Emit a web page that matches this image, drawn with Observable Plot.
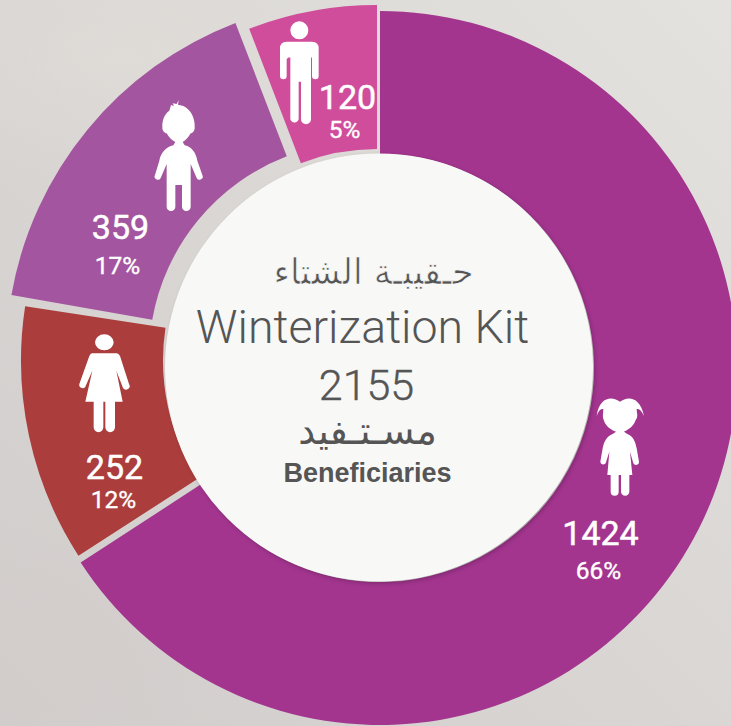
<!DOCTYPE html>
<html>
<head>
<meta charset="utf-8">
<script src="https://cdn.jsdelivr.net/npm/d3@7"></script>
<script src="https://cdn.jsdelivr.net/npm/@observablehq/plot@0.6"></script>
<style>
html,body{margin:0;padding:0;width:731px;height:726px;overflow:hidden;
 background:
  radial-gradient(ellipse 260px 120px at 120px 60px,rgba(232,226,218,.35),transparent),
  radial-gradient(ellipse 200px 160px at 60px 640px,rgba(214,204,200,.35),transparent),
  linear-gradient(45deg,#d0cdcc 0%,#d8d5d3 45%,#e4e2de 100%);}
svg{display:block;background:transparent!important}
</style>
</head>
<body>
<div id="chart"></div>
<script>
// data
const groups = ["Girls", "Women", "Boys", "Men"];
const beneficiaries = [1424, 252, 359, 120];
const counts = ["1424", "252", "359", "120"];
const shares = ["66%", "12%", "17%", "5%"];
const colors = ["#a3358f", "#ab3e3c", "#a3569f", "#d04d9b"];

// layout of each exploded slice
const centers = [[380, 368], [381, 360.6], [364, 357], [377, 361]];
const outerRadii = [357, 360, 358, 356];
const innerRadii = [214, 218, 215, 212];
const startNudgeDeg = [0, -0.7, 0, -1];
const endNudgeDeg = [-0.9, -1.3, -1, 0];
const countPos = [[600, 534], [114, 468], [120, 228], [347, 98]];
const sharePos = [[598, 571], [113, 500], [117, 266], [344, 130]];

// pictograms, traced in their own 3x grid
const iconOrigins = [[540, 380], [0, 280], [70, 90], [230, 0]];
const iconPaths = [
  "M240 65C262 48 300 48 312 108C304 90 296 84 290 88C290 100 296 110 286 122C280 140 262 150 252 155L262 162C280 168 286 185 290 205L297 245A9 9 0 0 1 280 250L270 215L277 285H268V335A12 12 0 0 1 243 335V285H236V335A12 12 0 0 1 212 335V285H202L208 215L197 250A9 9 0 0 1 181 245L188 205C192 185 200 168 218 162L228 155C215 150 198 140 192 122C186 110 190 100 190 88C184 84 176 90 170 108C178 48 218 48 240 65Z",
  "M276 220H350Q356 220 360 228L387 312A10 10 0 0 1 369 324L349 272L368 365H345V442A14 14 0 0 1 316 442V365H310V442A14 14 0 0 1 281 442V365H256L277 272L256 320A10 10 0 0 1 238 312L268 228Q272 220 276 220ZM285 187A28 24 0 1 0 341 187A28 24 0 1 0 285 187Z",
  "M298 62L303 45L312 48L308 40L320 42L326 30L324 44L340 48C362 58 376 85 374 112C375 122 368 130 362 130C356 142 346 152 338 156L344 166C366 170 378 190 382 212L397 255A9 9 0 0 1 380 264L362 222V350A13 13 0 0 1 336 350V285H316V350A13 13 0 0 1 290 350V222L272 264A9 9 0 0 1 255 255L268 212C272 190 288 170 310 166L316 156C306 152 296 142 290 130C284 130 276 122 277 112C276 90 284 72 298 62Z",
  "M170 125H246Q266 125 266 145V228A10 10 0 0 1 246 228V176Q246 172 243 172V358A15 15 0 0 1 213 358V245H206V358A13 13 0 0 1 181 358V172Q172 172 170 178V228A10 10 0 0 1 150 228V145Q150 125 170 125ZM181 91A27 27 0 1 0 235 91A27 27 0 1 0 181 91Z"
];

const rows = groups.map((g, i) => ({
  group: g, value: beneficiaries[i], count: counts[i], share: shares[i], color: colors[i],
  cx: centers[i][0], cy: centers[i][1], outer: outerRadii[i], inner: innerRadii[i],
  a0: startNudgeDeg[i] * Math.PI / 180, a1: endNudgeDeg[i] * Math.PI / 180,
  nx: countPos[i][0], ny: countPos[i][1], sx: sharePos[i][0], sy: sharePos[i][1],
  ix: iconOrigins[i][0], iy: iconOrigins[i][1], icon: iconPaths[i]
}));

const pieAngles = d3.pie().sort(null).value(d => d.value)(rows);

function slices(index, scales) {
  const g = d3.create("svg:g");
  for (const p of pieAngles) {
    const d = p.data;
    g.append("path")
      .attr("d", d3.arc()({innerRadius: d.inner, outerRadius: d.outer, startAngle: p.startAngle + d.a0, endAngle: p.endAngle + d.a1}))
      .attr("transform", `translate(${scales.x(d.cx)},${scales.y(d.cy)})`)
      .attr("fill", d.color);
  }
  return g.node();
}
function icons(index, scales) {
  const g = d3.create("svg:g");
  for (const d of rows) {
    g.append("path").attr("d", d.icon).attr("fill", "#fff").attr("fill-rule", "nonzero")
      .attr("transform", `translate(${scales.x(d.ix)},${scales.y(d.iy)}) scale(${1/3})`);
  }
  return g.node();
}

// centre texts
const title = [
  {t: "حـقيبـة الشتاء", x: 373, y: 272, size: 35, weight: 400, family: "'DejaVu Sans',sans-serif", fill: "#555", stroke: "#f8f8f7", sw: 0.7, order: "normal"},
  {t: "Winterization Kit", x: 362, y: 328, size: 46.5, weight: 300, family: "Roboto,sans-serif", fill: "#555"},
  {t: "2155", x: 366, y: 386, size: 43, weight: 300, family: "Roboto,sans-serif", fill: "#555", stroke: "#555", sw: 0.4, order: "normal"},
  {t: "مسـتـفيد", x: 367, y: 431, size: 38, weight: 400, family: "'DejaVu Sans',sans-serif", fill: "#555"},
  {t: "Beneficiaries", x: 367, y: 473, size: 27, weight: 700, family: "'Liberation Sans',Arial,sans-serif", fill: "#555"}
];

const chart = Plot.plot({
  width: 731, height: 726, margin: 0,
  x: {domain: [0, 731], range: [0, 731], axis: null},
  y: {domain: [0, 726], range: [0, 726], axis: null},
  style: {background: "transparent"},
  marks: [
    slices,
    Plot.dot([{x: 378.5, y: 367}], {x: "x", y: "y", r: 214, fill: "#f8f8f7",
      imageFilter: "drop-shadow(2px 2px 2px rgba(0,0,0,0.22))"}),
    icons,
    Plot.text(rows, {x: "nx", y: "ny", text: "count", fill: "#fff", stroke: "#fff", strokeWidth: 0.5, paintOrder: "normal", fontSize: 34, fontFamily: "Roboto,sans-serif", fontWeight: 400}),
    Plot.text(rows, {x: "sx", y: "sy", text: "share", fill: "#fff", stroke: "#fff", strokeWidth: 0.35, paintOrder: "normal", fontSize: 24.5, fontFamily: "Roboto,sans-serif", fontWeight: 400}),
    ...title.map(d => Plot.text([d], {x: "x", y: "y", text: "t", fill: d.fill, stroke: d.stroke, strokeWidth: d.sw, paintOrder: d.order, fontSize: d.size, fontWeight: d.weight, fontFamily: d.family}))
  ]
});
document.getElementById("chart").append(chart);
</script>
</body>
</html>
